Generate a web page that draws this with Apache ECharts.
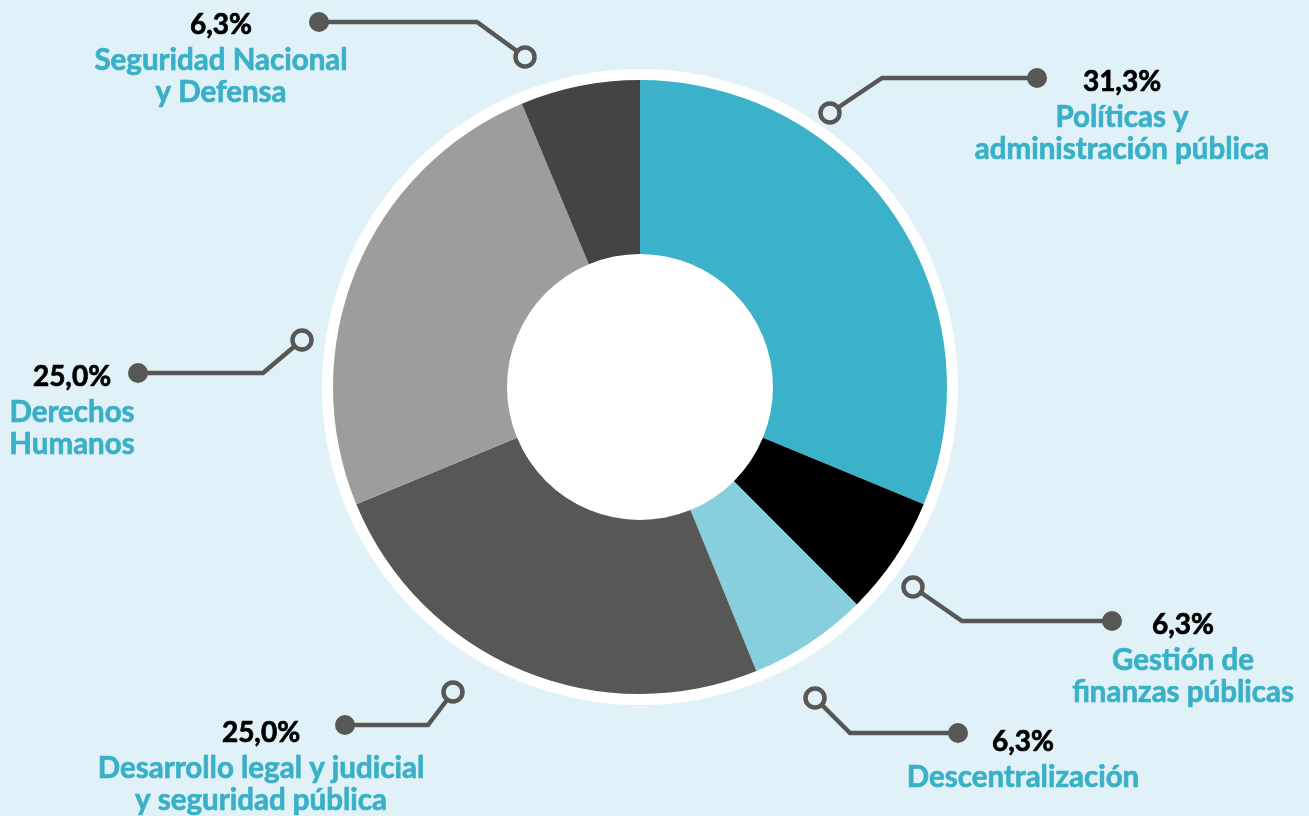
<!DOCTYPE html>
<html>
<head>
<meta charset="utf-8">
<script src="https://cdn.jsdelivr.net/npm/echarts@6/dist/echarts.min.js"></script>
<style>
html,body{margin:0;padding:0;background:#E0F2F7;}
#chart{width:1309px;height:816px;}
</style>
</head>
<body>
<div id="chart"></div>
<script>
// ---- data ----
const categories = [
  'Políticas y\nadministración pública',
  'Gestión de\nfinanzas públicas',
  'Descentralización',
  'Desarrollo legal y judicial\ny seguridad pública',
  'Derechos\nHumanos',
  'Seguridad Nacional\ny Defensa'
];
const shares = [31.3, 6.3, 6.3, 25.0, 25.0, 6.3];

// ---- styling / layout (not data) ----
const sliceColors = ['#3BB1CA', '#000000', '#88CFDE', '#575756', '#9D9D9C', '#444443'];
// leader line: hollow ring, bend, filled dot ; label: center x, first-line center y
const leaders = [
  {ring:[830,113], bend:[882,78], dot:[1037,78], label:[1122,82]},
  {ring:[913,587], bend:[962,621], dot:[1112,621], label:[1183,625]},
  {ring:[815,698], bend:[850,733], dot:[958,733], label:[1023,742]},
  {ring:[453,692], bend:[428,725], dot:[345,725], label:[261,733]},
  {ring:[302,340], bend:[263,373], dot:[138,373], label:[72,377]},
  {ring:[525,57], bend:[477,22], dot:[319,22], label:[221,25]}
];
const pctLine = 39, nameLine = 32;
const lineColor = '#575756';
const bg = '#E0F2F7';
const nameColor = '#3AB0C8';

const chart = echarts.init(document.getElementById('chart'), null, {renderer:'canvas'});

const graphics = [];
leaders.forEach(l => {
  graphics.push({type:'polyline', z:10, shape:{points:[l.ring, l.bend, l.dot]},
    style:{stroke:lineColor, lineWidth:4.5, fill:null}});
  graphics.push({type:'circle', z:11, shape:{cx:l.ring[0], cy:l.ring[1], r:9.5},
    style:{fill:bg, stroke:lineColor, lineWidth:4.5}});
  graphics.push({type:'circle', z:11, shape:{cx:l.dot[0], cy:l.dot[1], r:10},
    style:{fill:lineColor}});
});

chart.setOption({
  backgroundColor: bg,
  animation: false,
  graphic: graphics,
  series: [
    {
      type:'pie', silent:true, z:1,
      center:[640,387], radius:[0,318],
      label:{show:false}, labelLine:{show:false},
      itemStyle:{color:'#FFFFFF'},
      data:[{value:1, name:'fondo'}]
    },
    {
      type:'pie', z:2,
      center:[640,387], radius:[133,307],
      startAngle:90, clockwise:true,
      avoidLabelOverlap:false,
      itemStyle:{borderWidth:0},
      labelLine:{show:false},
      label:{
        show:true,
        position:'outside',
        fontFamily:'Lato',
        formatter: p => {
          const pct = p.value.toFixed(1).replace('.', ',') + '%';
          const lines = p.name.split('\n').map(s => '{n|' + s + '}');
          return '{p|' + pct + '}\n' + lines.join('\n');
        },
        rich:{
          p:{fontFamily:'Lato', fontWeight:'bold', fontSize:28, color:'#000000', lineHeight:pctLine, align:'center',
             textBorderColor:'#000000', textBorderWidth:0.7},
          n:{fontFamily:'Lato', fontWeight:'bold', fontSize:29.5, color:nameColor, lineHeight:nameLine, align:'center',
             textBorderColor:nameColor, textBorderWidth:0.7}
        }
      },
      labelLayout: params => {
        const l = leaders[params.dataIndex];
        return {x:l.label[0], y:l.label[1] - pctLine/2, align:'center', verticalAlign:'top'};
      },
      data: categories.map((c,i) => ({name:c, value:shares[i], itemStyle:{color:sliceColors[i]}}))
    }
  ]
});
</script>
</body>
</html>
